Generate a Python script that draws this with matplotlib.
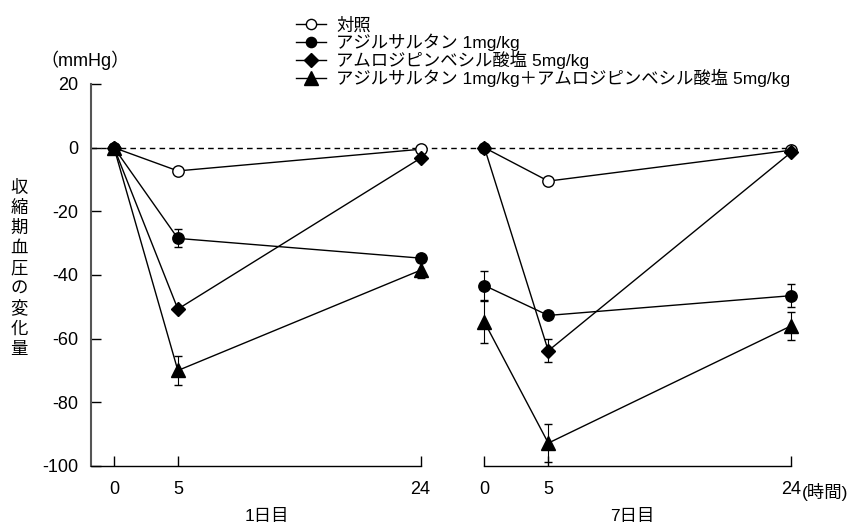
import matplotlib
matplotlib.use("Agg")
import matplotlib.pyplot as plt

plt.rcParams['font.family'] = ['Liberation Sans', 'Noto Sans CJK JP', 'DejaVu Sans']
jp = ['Noto Sans CJK JP', 'DejaVu Sans']

# hours after dosing
hours = [0, 5, 24]
day7_offset = 29  # day 7 panel placed to the right on the same axis

labels = ['対照',
          'アジルサルタン 1mg/kg',
          'アムロジピンベシル酸塩 5mg/kg',
          'アジルサルタン 1mg/kg＋アムロジピンベシル酸塩 5mg/kg']
ylabel = '収縮期血圧の変化量'

# change in systolic BP (mmHg), day 1
d1_ctrl = [0, -7.3, -0.5]
d1_azl = [0, -28.5, -34.7]
d1_aml = [0, -50.7, -3.3]
d1_combo = [0, -70.0, -38.5]
d1_ctrl_err = [0, 0, 0]
d1_azl_err = [0, 2.8, 0]
d1_aml_err = [0, 0, 0]
d1_combo_err = [0, 4.5, 2.5]

# day 7
d7_ctrl = [0, -10.5, -0.8]
d7_azl = [-43.3, -52.7, -46.5]
d7_aml = [0, -63.8, -1.5]
d7_combo = [-54.8, -92.8, -56.0]
d7_ctrl_err = [0, 0, 0]
d7_azl_err = [4.5, 0, 3.6]
d7_aml_err = [0, 3.6, 0]
d7_combo_err = [6.7, 6.0, 4.5]

styles = [dict(marker='o', mfc='white', ms=8.2),
          dict(marker='o', mfc='black', ms=8.2),
          dict(marker='D', mfc='black', ms=7.5),
          dict(marker='^', mfc='black', ms=10.5)]

fig = plt.figure(figsize=(8.55, 5.25), dpi=100)
ax = fig.add_axes([91/855, 59/525, 700/855, 382/525])

ax.axhline(0, color='black', lw=1, ls=(0, (4, 3)), zorder=1)

d1 = [(d1_ctrl, d1_ctrl_err), (d1_azl, d1_azl_err), (d1_aml, d1_aml_err), (d1_combo, d1_combo_err)]
d7 = [(d7_ctrl, d7_ctrl_err), (d7_azl, d7_azl_err), (d7_aml, d7_aml_err), (d7_combo, d7_combo_err)]
x7 = [h + day7_offset for h in hours]

handles = []
for (y, e), st, lab in zip(d1, styles, labels):
    ax.errorbar(hours, y, yerr=e, color='black', lw=1, elinewidth=0.8, capsize=3,
                capthick=0.8, mec='black', mew=1, clip_on=False, zorder=3, **st)
    h, = ax.plot([], [], color='black', lw=1, mec='black', mew=1, label=lab, **st)
    handles.append(h)
for (y, e), st in zip(d7, styles):
    ax.errorbar(x7, y, yerr=e, color='black', lw=1, elinewidth=0.8, capsize=3,
                capthick=0.8, mec='black', mew=1, clip_on=False, zorder=3, **st)

ax.set_xlim(-1.8, 53)
ax.set_ylim(-100, 20)
ax.set_yticks([20, 0, -20, -40, -60, -80, -100])
ax.set_yticklabels(['20', '0', '-20', '-40', '-60', '-80', '-100'])
ax.set_xticks(hours + x7)
ax.set_xticklabels(['0', '5', '24', '0', '5', '24'])

for s in ['top', 'right']:
    ax.spines[s].set_visible(False)
ax.spines['left'].set_color('#555555')
ax.spines['left'].set_linewidth(1.5)
ax.spines['bottom'].set_bounds(-1.8, 24)
ax.spines['bottom'].set_linewidth(1)
ax.plot([x7[0], x7[-1]], [-100, -100], color='black', lw=1, clip_on=False)

ax.tick_params(axis='y', direction='in', length=7, width=1, pad=9, labelsize=13)
ax.tick_params(axis='x', direction='in', length=7, width=1, pad=11, labelsize=13)

ax.annotate('(時間)', xy=(53, -100), xytext=(8, -18.5), textcoords='offset points',
            ha='left', va='center', fontsize=12.5, annotation_clip=False)

fig.text(267/855, 1 - 516/525, '1日目', ha='center', va='center', fontsize=12.5)
fig.text(632/855, 1 - 516/525, '7日目', ha='center', va='center', fontsize=12.5)
fig.text(85/855, 1 - 60/525, '（mmHg）', ha='center', va='center', fontsize=13)

# vertical label, one character per line
for i, ch in enumerate(ylabel):
    fig.text(19/855, 1 - (188 + 20.1 * i)/525, ch, ha='center', va='center',
             fontsize=12.5, family=jp)

ax.legend(handles=handles, loc='upper left', bbox_to_anchor=(296/855, 1 - 17/525),
          bbox_transform=fig.transFigure, frameon=False, fontsize=12.5,
          handlelength=1.7, handletextpad=0.6, labelspacing=0.0, borderpad=0,
          borderaxespad=0, markerscale=0.9)

fig.savefig('out.png', dpi=100)
